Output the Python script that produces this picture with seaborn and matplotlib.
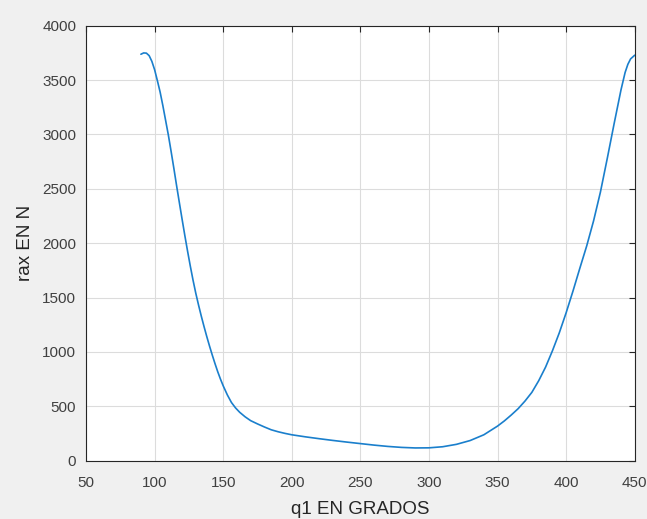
import numpy as np
import pandas as pd
import matplotlib
matplotlib.use("Agg")
import matplotlib.pyplot as plt
import seaborn as sns

# values
q1 = [90, 92, 94, 96, 98, 100, 102, 104, 106, 108, 110, 112, 114, 116, 118,
      120, 122, 124, 126, 128, 130, 132, 134, 136, 138, 140, 142, 144, 146,
      148, 150, 153, 156, 159, 162, 166, 170, 175, 180, 185, 190, 195, 200,
      210, 220, 230, 240, 250, 260, 270, 280, 290, 300, 310, 320, 330, 340,
      350, 355, 360, 365, 370, 375, 380, 385, 390, 395, 400, 405, 410, 415,
      420, 425, 430, 435, 440, 443, 445, 447, 450]
rax = [3738, 3750, 3748, 3725, 3672, 3595, 3495, 3390, 3265, 3130, 2995,
       2845, 2690, 2530, 2375, 2222, 2072, 1928, 1790, 1660, 1540, 1432,
       1330, 1234, 1142, 1055, 972, 893, 818, 750, 688, 605, 535, 485, 445,
       403, 368, 338, 310, 284, 266, 251, 238, 219, 202, 186, 171, 157, 143,
       131, 122, 117, 118, 128, 150, 185, 238, 318, 366, 420, 478, 548, 628,
       735, 860, 1010, 1175, 1360, 1560, 1770, 1975, 2205, 2470, 2780, 3100,
       3410, 3570, 3645, 3695, 3729]

xticks = [50, 100, 150, 200, 250, 300, 350, 400, 450]
yticks = [0, 500, 1000, 1500, 2000, 2500, 3000, 3500, 4000]

df = pd.DataFrame({"q1": q1, "rax": rax})

sns.set_style("whitegrid")
plt.rcParams["font.family"] = ["Liberation Sans", "DejaVu Sans"]

fig = plt.figure(figsize=(6.47, 5.19), dpi=100)
fig.patch.set_facecolor("#f0f0f0")
ax = fig.add_axes([0.133, 0.1124, 0.848, 0.838])
ax.set_facecolor("white")

sns.lineplot(data=df, x="q1", y="rax", sort=False, estimator=None,
             color="#1a7fcc", linewidth=1.2, ax=ax)

ax.set_xlim(50, 450)
ax.set_ylim(0, 4000)
ax.set_xticks(xticks)
ax.set_yticks(yticks)
ax.grid(True, color="#dcdcdc", linewidth=0.8)

for s in ax.spines.values():
    s.set_visible(True)
    s.set_color("#262626")
    s.set_linewidth(0.8)

ax.tick_params(direction="in", length=4, width=0.8, colors="#262626",
               labelsize=11, top=True, right=True,
               labeltop=False, labelright=False, pad=7)
ax.tick_params(axis="x", pad=11)
for lab in ax.get_xticklabels() + ax.get_yticklabels():
    lab.set_color("#404040")

ax.set_xlabel("q1 EN GRADOS", fontsize=13.5, color="#262626", labelpad=8)
ax.set_ylabel("rax EN N", fontsize=13.5, color="#262626", labelpad=6)

plt.savefig("out.png", dpi=100, facecolor=fig.get_facecolor())
